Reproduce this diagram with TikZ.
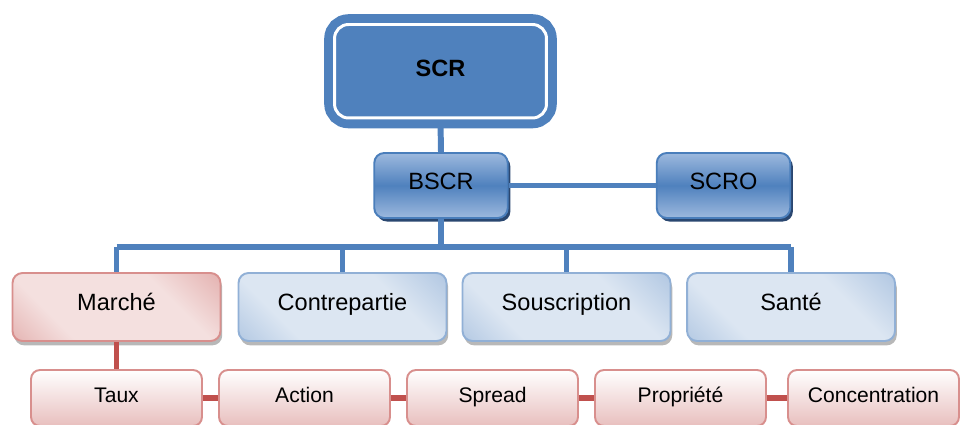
\documentclass[tikz,border=0pt]{standalone}
\usepackage{fontspec}
\setmainfont{Liberation Sans}
\usepackage{tikz}
\usetikzlibrary{shadows,positioning}
\definecolor{scrblue}{HTML}{4F81BD}
\definecolor{bscrtop}{HTML}{9DB9DE}
\definecolor{bscrline}{HTML}{4A7EBB}
\definecolor{bscrshadow}{HTML}{2A4770}
\definecolor{riskdark}{HTML}{91B0D6}
\definecolor{risklight}{HTML}{DCE6F2}
\definecolor{pinkdark}{HTML}{D88F8D}
\definecolor{pinklight}{HTML}{F4E0DF}
\definecolor{subbottom}{HTML}{E8BFBE}
\definecolor{redline}{HTML}{C0504D}
\pgfdeclarehorizontalshading{riskshade}{100bp}{color(0bp)=(riskdark); color(31bp)=(risklight);
  color(66bp)=(risklight); color(100bp)=(riskdark)}
\pgfdeclarehorizontalshading{mktshade}{100bp}{color(0bp)=(pinkdark); color(31bp)=(pinklight);
  color(66bp)=(pinklight); color(100bp)=(pinkdark)}
\tikzset{
  every node/.style={font=\fontsize{13.4}{16}\selectfont},
  topbox/.style={rectangle,rounded corners=0.28cm,fill=scrblue,draw=scrblue,
    double=white,double distance=1.7pt,line width=5pt,
    minimum width=4.24cm,minimum height=1.87cm,text height=10pt,text depth=3.8pt,
    font=\bfseries\fontsize{13.4}{16}\selectfont},
  midbox/.style={rectangle,rounded corners=0.2cm,draw=bscrline,line width=1.1pt,
    top color=bscrtop,bottom color=bscrtop,middle color=scrblue,
    minimum width=2.67cm,minimum height=1.3cm,text height=10.5pt,text depth=6.5pt,
    drop shadow={shadow xshift=1.5pt,shadow yshift=-2pt,fill=bscrshadow,opacity=1}},
  riskbox/.style={rectangle,rounded corners=0.2cm,draw=riskdark,line width=1.1pt,
    shading=riskshade,shading angle=45,
    minimum width=4.16cm,minimum height=1.36cm,text height=10.5pt,text depth=6.5pt,
    drop shadow={shadow xshift=1pt,shadow yshift=-2.5pt,fill=gray!70,opacity=0.8}},
  mktbox/.style={riskbox,draw=pinkdark,shading=mktshade,shading angle=45},
  subbox/.style={rectangle,rounded corners=0.18cm,draw=pinkdark,line width=1.1pt,
    top color=white,bottom color=subbottom,
    minimum width=3.42cm,minimum height=1.12cm,text height=9.5pt,text depth=4.3pt,
    font=\fontsize{12}{14}\selectfont},
  bluelink/.style={scrblue,line width=3.4pt},
  redlink/.style={redline,line width=3.2pt}
}

\begin{document}
\begin{tikzpicture}[x=0.02cm,y=-0.02cm]
  \useasboundingbox (0,0) rectangle (962,425);
  \clip (0,0) rectangle (962,425);
  \coordinate (bus) at (0,247);

  \node[topbox] (scr) at (440.5,71.25) {SCR};
  \node[midbox] (bscr) at (441,185.5) {BSCR};
  \node[midbox] (scro) at (723.5,185.5) {SCRO};

  \node[mktbox] (marche) at (116.5,307) {Marché};
  \node[riskbox] (contre) at (342.5,307) {Contrepartie};
  \node[riskbox] (souscr) at (566.5,307) {Souscription};
  \node[riskbox] (sante) at (791,307) {Santé};

  \node[subbox] (taux) at (116.5,398) {Taux};
  \node[subbox] (action) at (304.5,398) {Action};
  \node[subbox] (spread) at (492.5,398) {Spread};
  \node[subbox] (propr) at (680.5,398) {Propriété};
  \node[subbox] (concen) at (873.5,398) {Concentration};

  \draw[bluelink] (scr.south) -- (bscr.north);
  \draw[bluelink] (bscr.east) -- (scro.west);
  \draw[bluelink] (bscr.south) -- (bscr.south |- bus);
  \draw[bluelink] (marche.north |- bus) -- (sante.north |- bus);
  \foreach \n in {marche,contre,souscr,sante}
    \draw[bluelink] (\n.north |- bus) -- (\n.north);

  \draw[redlink] (marche.south) -- (taux.north);
  \draw[redlink] (taux) -- (action);
  \draw[redlink] (action) -- (spread);
  \draw[redlink] (spread) -- (propr);
  \draw[redlink] (propr) -- (concen);
\end{tikzpicture}
\end{document}
